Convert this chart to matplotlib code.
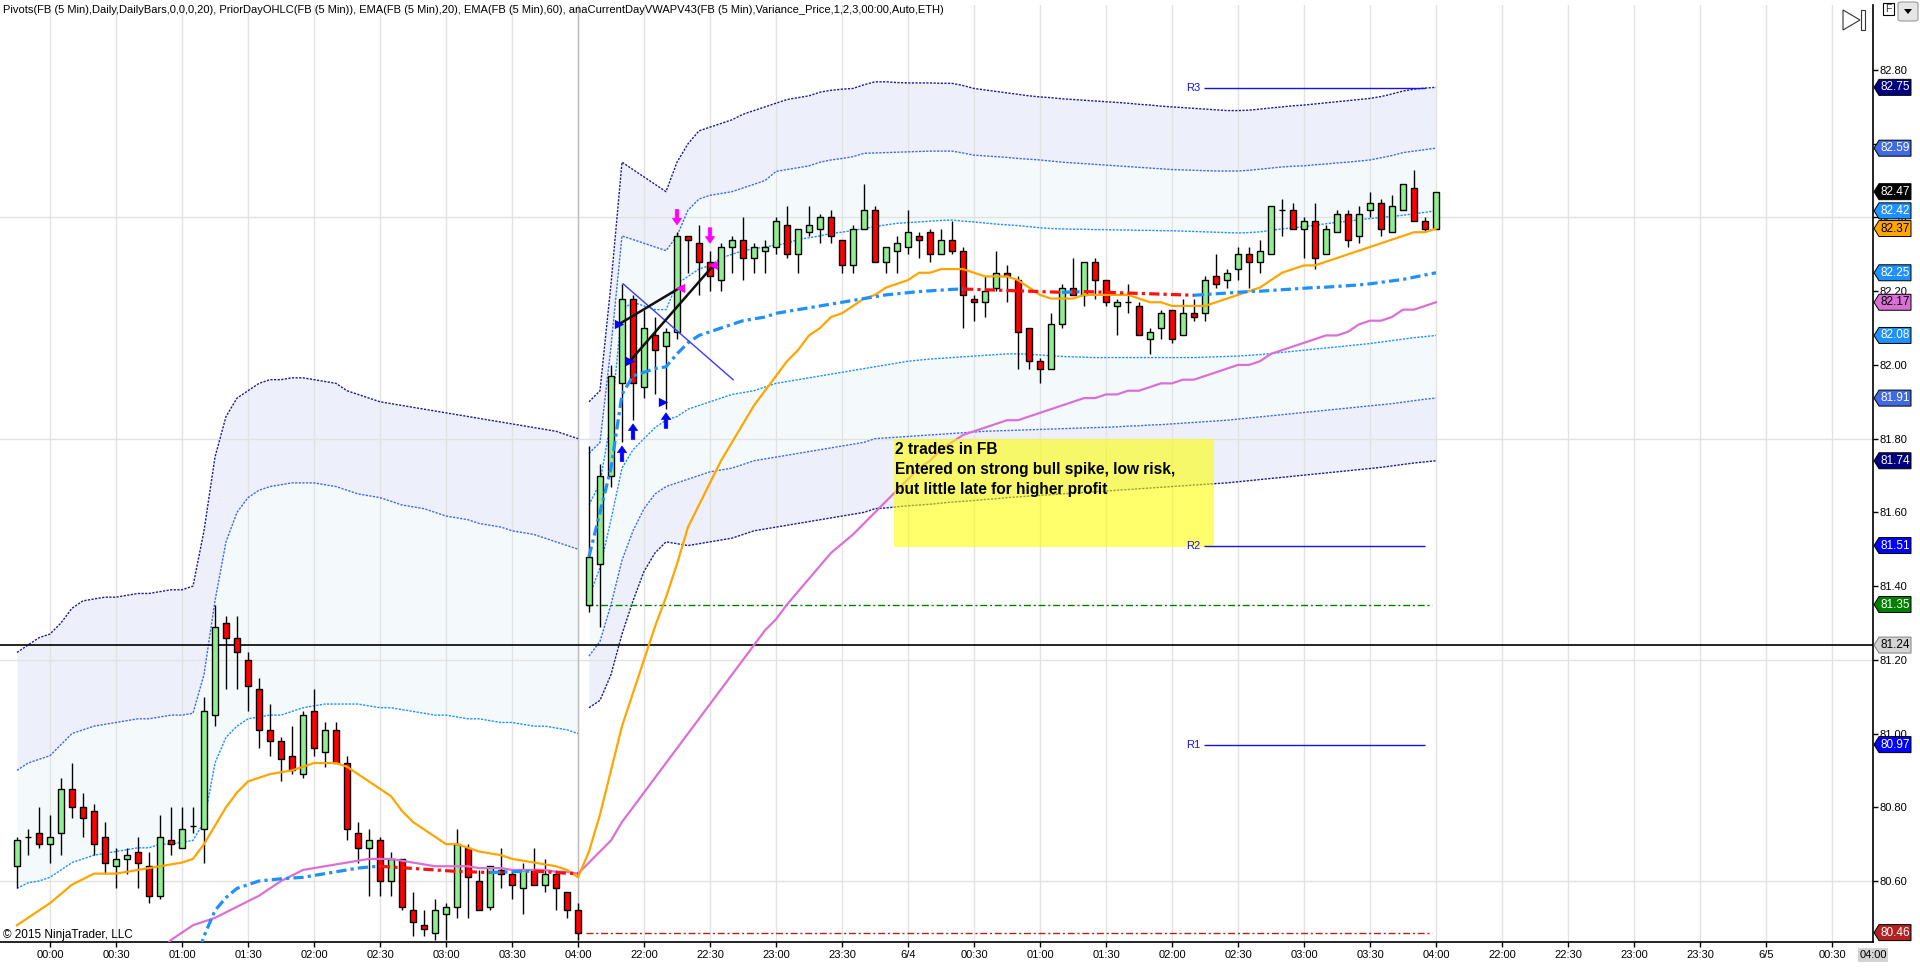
import numpy as np
import matplotlib.pyplot as plt
from matplotlib.patches import Polygon, Rectangle, FancyBboxPatch

plt.rcParams['font.family'] = ['Liberation Sans', 'DejaVu Sans']

# 5 minute bars, FB, 23:45 .. 04:00 then 21:35 .. 04:00
opens = [80.64, 80.72, 80.73, 80.70, 80.73, 80.85, 80.80, 80.79, 80.72, 80.64,
         80.66, 80.68, 80.64, 80.56, 80.71, 80.69, 80.75, 80.74, 81.05, 81.30,
         81.26, 81.20, 81.12, 81.01, 80.98, 80.94, 80.89, 81.06, 80.95, 81.01,
         80.92, 80.73, 80.69, 80.71, 80.60, 80.66, 80.52, 80.48, 80.46, 80.51,
         80.53, 80.69, 80.60, 80.53, 80.63, 80.62, 80.58, 80.63, 80.59, 80.62,
         80.57, 80.52,
         81.35, 81.46, 81.70, 81.95, 82.18, 81.94, 82.08, 82.05, 82.09, 82.35,
         82.33, 82.28, 82.23, 82.32, 82.34, 82.29, 82.31, 82.32, 82.38, 82.30,
         82.36, 82.37, 82.40, 82.34, 82.27, 82.37, 82.42, 82.28, 82.31, 82.32,
         82.35, 82.36, 82.30, 82.34, 82.31, 82.18, 82.17, 82.21, 82.25, 82.23,
         82.10, 82.01, 81.99, 82.11, 82.21, 82.19, 82.28, 82.23, 82.16, 82.17,
         82.16, 82.07, 82.10, 82.15, 82.08, 82.14, 82.14, 82.24, 82.23, 82.26,
         82.30, 82.28, 82.30, 82.42, 82.42, 82.37, 82.39, 82.30, 82.36, 82.41,
         82.35, 82.42, 82.44, 82.36, 82.42, 82.48, 82.39, 82.37]
highs = [80.72, 80.74, 80.80, 80.78, 80.88, 80.92, 80.84, 80.81, 80.76, 80.69,
         80.69, 80.72, 80.68, 80.78, 80.80, 80.80, 80.80, 81.10, 81.35, 81.32,
         81.32, 81.22, 81.15, 81.08, 80.99, 81.02, 81.06, 81.12, 81.03, 81.03,
         80.94, 80.76, 80.74, 80.72, 80.68, 80.66, 80.57, 80.52, 80.55, 80.54,
         80.74, 80.70, 80.63, 80.64, 80.69, 80.63, 80.65, 80.69, 80.66, 80.63,
         80.57, 80.54,
         81.78, 81.73, 82.00, 82.22, 82.19, 82.15, 82.13, 82.10, 82.36, 82.35,
         82.38, 82.31, 82.33, 82.35, 82.40, 82.33, 82.34, 82.40, 82.43, 82.37,
         82.43, 82.41, 82.42, 82.34, 82.38, 82.49, 82.43, 82.32, 82.35, 82.42,
         82.36, 82.37, 82.37, 82.39, 82.32, 82.19, 82.24, 82.31, 82.27, 82.24,
         82.10, 82.02, 82.14, 82.22, 82.29, 82.28, 82.29, 82.23, 82.18, 82.22,
         82.17, 82.10, 82.15, 82.15, 82.18, 82.18, 82.24, 82.30, 82.26, 82.32,
         82.32, 82.34, 82.43, 82.45, 82.44, 82.40, 82.44, 82.38, 82.42, 82.42,
         82.43, 82.47, 82.45, 82.46, 82.49, 82.53, 82.40, 82.47]
lows = [80.58, 80.67, 80.69, 80.65, 80.67, 80.77, 80.72, 80.67, 80.62, 80.58,
        80.62, 80.58, 80.54, 80.55, 80.67, 80.69, 80.73, 80.65, 81.02, 81.12,
        81.12, 81.06, 80.96, 80.94, 80.87, 80.89, 80.88, 80.94, 80.91, 80.92,
        80.71, 80.65, 80.56, 80.56, 80.56, 80.52, 80.45, 80.45, 80.44, 80.44,
        80.50, 80.50, 80.52, 80.52, 80.58, 80.55, 80.51, 80.59, 80.57, 80.52,
        80.50, 80.44,
        81.33, 81.29, 81.67, 81.79, 81.85, 81.91, 81.92, 81.88, 82.07, 82.25,
        82.19, 82.20, 82.20, 82.25, 82.23, 82.25, 82.25, 82.30, 82.29, 82.25,
        82.35, 82.33, 82.33, 82.25, 82.25, 82.37, 82.28, 82.25, 82.25, 82.30,
        82.29, 82.28, 82.30, 82.30, 82.10, 82.12, 82.13, 82.20, 82.17, 81.99,
        81.99, 81.95, 81.99, 82.10, 82.19, 82.16, 82.18, 82.16, 82.08, 82.14,
        82.08, 82.03, 82.07, 82.06, 82.08, 82.12, 82.12, 82.21, 82.21, 82.23,
        82.21, 82.25, 82.30, 82.35, 82.37, 82.29, 82.26, 82.30, 82.36, 82.32,
        82.33, 82.40, 82.35, 82.36, 82.42, 82.39, 82.36, 82.37]
closes = [80.71, 80.72, 80.70, 80.72, 80.85, 80.80, 80.77, 80.70, 80.65, 80.66,
          80.67, 80.65, 80.56, 80.72, 80.70, 80.74, 80.75, 81.06, 81.29, 81.26,
          81.22, 81.13, 81.01, 80.98, 80.93, 80.90, 81.05, 80.96, 81.01, 80.92,
          80.74, 80.69, 80.71, 80.60, 80.66, 80.53, 80.49, 80.47, 80.52, 80.53,
          80.70, 80.61, 80.52, 80.64, 80.62, 80.59, 80.63, 80.59, 80.62, 80.58,
          80.52, 80.46,
          81.48, 81.70, 81.97, 82.18, 81.95, 82.10, 82.04, 82.09, 82.35, 82.34,
          82.28, 82.24, 82.32, 82.34, 82.29, 82.32, 82.32, 82.39, 82.30, 82.37,
          82.38, 82.40, 82.35, 82.27, 82.37, 82.42, 82.28, 82.32, 82.33, 82.36,
          82.34, 82.30, 82.34, 82.31, 82.19, 82.17, 82.20, 82.25, 82.24, 82.09,
          82.01, 81.99, 82.11, 82.21, 82.19, 82.28, 82.23, 82.17, 82.17, 82.17,
          82.08, 82.09, 82.14, 82.07, 82.14, 82.13, 82.23, 82.22, 82.25, 82.30,
          82.28, 82.31, 82.43, 82.42, 82.37, 82.39, 82.29, 82.37, 82.41, 82.34,
          82.41, 82.44, 82.37, 82.43, 82.49, 82.39, 82.37, 82.47]

ema20 = [80.48, 80.50, 80.52, 80.54, 80.565, 80.59, 80.605, 80.62, 80.62, 80.62,
         80.625, 80.63, 80.635, 80.64, 80.645, 80.65, 80.66, 80.70, 80.75, 80.80,
         80.84, 80.87, 80.88, 80.89, 80.895, 80.90, 80.91, 80.92, 80.92, 80.92,
         80.91, 80.89, 80.87, 80.85, 80.83, 80.79, 80.76, 80.74, 80.72, 80.70,
         80.70, 80.69, 80.68, 80.675, 80.67, 80.66, 80.655, 80.65, 80.645, 80.64,
         80.63, 80.61,
         80.68, 80.78, 80.90, 81.02, 81.11, 81.20, 81.29, 81.37, 81.46, 81.56,
         81.62, 81.68, 81.74, 81.79, 81.84, 81.89, 81.93, 81.97, 82.01, 82.04,
         82.08, 82.10, 82.13, 82.14, 82.16, 82.18, 82.19, 82.21, 82.22, 82.23,
         82.25, 82.25, 82.26, 82.26, 82.26, 82.25, 82.24, 82.24, 82.24, 82.23,
         82.21, 82.19, 82.18, 82.18, 82.18, 82.19, 82.19, 82.19, 82.19, 82.19,
         82.18, 82.17, 82.17, 82.16, 82.16, 82.16, 82.16, 82.17, 82.18, 82.19,
         82.20, 82.21, 82.23, 82.25, 82.26, 82.27, 82.27, 82.28, 82.29, 82.30,
         82.31, 82.32, 82.33, 82.34, 82.35, 82.36, 82.36, 82.37]
ema60 = [None] * 13 + [
         80.41, 80.44, 80.46, 80.48, 80.49, 80.50, 80.515,
         80.53, 80.545, 80.56, 80.58, 80.60, 80.615, 80.63, 80.635, 80.64, 80.645,
         80.65, 80.655, 80.66, 80.66, 80.66, 80.655, 80.65, 80.645, 80.64, 80.64,
         80.64, 80.64, 80.635, 80.635, 80.635, 80.63, 80.63, 80.63, 80.63, 80.625,
         80.625, 80.62,
         80.65, 80.68, 80.71, 80.76, 80.80, 80.84, 80.88, 80.92, 80.96, 81.00,
         81.04, 81.08, 81.12, 81.16, 81.20, 81.24, 81.28, 81.31, 81.35, 81.385,
         81.42, 81.455, 81.49, 81.515, 81.54, 81.57, 81.60, 81.63, 81.66, 81.69,
         81.72, 81.74, 81.77, 81.79, 81.81, 81.82, 81.83, 81.84, 81.85, 81.85,
         81.86, 81.87, 81.88, 81.89, 81.90, 81.91, 81.91, 81.92, 81.92, 81.93,
         81.93, 81.94, 81.95, 81.95, 81.96, 81.96, 81.97, 81.98, 81.99, 82.00,
         82.00, 82.01, 82.03, 82.04, 82.05, 82.06, 82.07, 82.08, 82.08, 82.09,
         82.11, 82.12, 82.12, 82.13, 82.15, 82.15, 82.16, 82.17]

# VWAP and deviation bands, one set per session
vwap_1 = [None] * 16 + [
          80.36, 80.45, 80.52, 80.555, 80.58, 80.59, 80.60, 80.603, 80.606, 80.608,
          80.61, 80.615, 80.62, 80.625, 80.63, 80.635, 80.638, 80.64, 80.638, 80.636,
          80.634, 80.632, 80.630, 80.628, 80.626, 80.625, 80.624, 80.623, 80.624, 80.625,
          80.626, 80.627, 80.625, 80.623, 80.621, 80.62]
sd3u_1 = [81.22, 81.24, 81.26, 81.27, 81.30, 81.34, 81.36, 81.365, 81.37, 81.37,
          81.375, 81.38, 81.38, 81.385, 81.39, 81.39, 81.40, 81.55, 81.75, 81.86,
          81.91, 81.93, 81.95, 81.96, 81.96, 81.965, 81.965, 81.96, 81.955, 81.95,
          81.93, 81.92, 81.91, 81.90, 81.895, 81.89, 81.885, 81.88, 81.875, 81.87,
          81.865, 81.86, 81.855, 81.85, 81.845, 81.84, 81.835, 81.83, 81.825, 81.82,
          81.81, 81.80]
sd2u_1 = [80.90, 80.92, 80.93, 80.94, 80.97, 81.00, 81.01, 81.02, 81.025, 81.03,
          81.035, 81.04, 81.04, 81.045, 81.05, 81.05, 81.055, 81.16, 81.36, 81.52,
          81.60, 81.64, 81.66, 81.67, 81.675, 81.68, 81.68, 81.68, 81.675, 81.67,
          81.66, 81.65, 81.645, 81.64, 81.63, 81.62, 81.615, 81.61, 81.60, 81.59,
          81.585, 81.58, 81.57, 81.565, 81.56, 81.55, 81.545, 81.54, 81.53, 81.52,
          81.51, 81.50]
sd1u_1 = [80.58, 80.595, 80.60, 80.61, 80.63, 80.65, 80.66, 80.67, 80.675, 80.68,
          80.685, 80.69, 80.69, 80.70, 80.70, 80.705, 80.71, 80.76, 80.92, 80.99,
          81.02, 81.04, 81.045, 81.05, 81.05, 81.06, 81.07, 81.075, 81.08, 81.08,
          81.08, 81.08, 81.075, 81.07, 81.07, 81.065, 81.06, 81.055, 81.05, 81.05,
          81.045, 81.04, 81.04, 81.035, 81.03, 81.03, 81.025, 81.02, 81.02, 81.015,
          81.01, 81.00]

vwap_2 = [81.48, 81.60, 81.72, 81.92, 81.97, 81.98, 81.99, 81.995, 82.03, 82.06,
          82.08, 82.09, 82.10, 82.11, 82.12, 82.125, 82.13, 82.14, 82.145, 82.15,
          82.155, 82.16, 82.165, 82.17, 82.175, 82.18, 82.185, 82.19, 82.193, 82.196,
          82.199, 82.201, 82.203, 82.205, 82.206, 82.205, 82.204, 82.203, 82.202, 82.201,
          82.200, 82.199, 82.198, 82.197, 82.198, 82.199, 82.198, 82.197, 82.196, 82.195,
          82.194, 82.193, 82.192, 82.191, 82.190, 82.189, 82.191, 82.193, 82.195, 82.197,
          82.199, 82.200, 82.202, 82.204, 82.206, 82.208, 82.210, 82.211, 82.213, 82.215,
          82.217, 82.220, 82.224, 82.228, 82.232, 82.238, 82.244, 82.250]
sd3u_2 = [81.90, 81.93, 82.22, 82.55, 82.53, 82.51, 82.49, 82.47, 82.55, 82.60,
          82.635, 82.645, 82.655, 82.665, 82.68, 82.69, 82.70, 82.71, 82.72, 82.725,
          82.73, 82.74, 82.745, 82.748, 82.75, 82.76, 82.768, 82.768, 82.766, 82.765,
          82.765, 82.765, 82.764, 82.764, 82.758, 82.75, 82.746, 82.742, 82.738, 82.734,
          82.73, 82.727, 82.725, 82.722, 82.72, 82.718, 82.716, 82.714, 82.712, 82.71,
          82.707, 82.705, 82.702, 82.70, 82.698, 82.696, 82.694, 82.692, 82.69, 82.69,
          82.691, 82.694, 82.697, 82.70, 82.703, 82.705, 82.708, 82.711, 82.714, 82.717,
          82.72, 82.723, 82.728, 82.735, 82.743, 82.748, 82.751, 82.753]
sd2u_2 = [81.76, 81.79, 82.05, 82.35, 82.34, 82.33, 82.32, 82.31, 82.35, 82.42,
          82.45, 82.46, 82.465, 82.47, 82.48, 82.49, 82.50, 82.525, 82.53, 82.535,
          82.54, 82.55, 82.556, 82.56, 82.565, 82.574, 82.575, 82.576, 82.577, 82.578,
          82.579, 82.58, 82.58, 82.58, 82.575, 82.569, 82.567, 82.565, 82.563, 82.56,
          82.558, 82.556, 82.553, 82.55, 82.548, 82.546, 82.544, 82.542, 82.54, 82.538,
          82.536, 82.534, 82.532, 82.53, 82.529, 82.528, 82.527, 82.526, 82.526, 82.526,
          82.528, 82.531, 82.534, 82.537, 82.539, 82.54, 82.543, 82.545, 82.548, 82.55,
          82.553, 82.556, 82.562, 82.568, 82.576, 82.58, 82.584, 82.588]
sd1u_2 = [81.62, 81.68, 81.85, 82.15, 82.17, 82.16, 82.15, 82.15, 82.22, 82.24,
          82.26, 82.27, 82.29, 82.30, 82.31, 82.315, 82.32, 82.325, 82.33, 82.34,
          82.345, 82.35, 82.357, 82.36, 82.365, 82.37, 82.375, 82.38, 82.384, 82.386,
          82.388, 82.39, 82.392, 82.393, 82.39, 82.388, 82.385, 82.382, 82.38, 82.378,
          82.375, 82.372, 82.37, 82.369, 82.368, 82.368, 82.367, 82.367, 82.366, 82.366,
          82.365, 82.365, 82.364, 82.364, 82.363, 82.362, 82.361, 82.36, 82.359, 82.358,
          82.359, 82.361, 82.365, 82.369, 82.372, 82.375, 82.379, 82.383, 82.387, 82.39,
          82.394, 82.397, 82.40, 82.403, 82.406, 82.41, 82.414, 82.418]
sd1l_2 = [81.37, 81.45, 81.58, 81.72, 81.77, 81.80, 81.83, 81.85, 81.86, 81.88,
          81.89, 81.90, 81.91, 81.92, 81.925, 81.93, 81.94, 81.95, 81.955, 81.96,
          81.965, 81.97, 81.975, 81.98, 81.985, 81.99, 81.995, 82.00, 82.005, 82.01,
          82.013, 82.016, 82.018, 82.02, 82.022, 82.024, 82.026, 82.028, 82.03, 82.03,
          82.029, 82.027, 82.025, 82.023, 82.022, 82.021, 82.02, 82.02, 82.02, 82.02,
          82.02, 82.02, 82.02, 82.02, 82.02, 82.02, 82.021, 82.022, 82.023, 82.024,
          82.026, 82.028, 82.031, 82.034, 82.037, 82.04, 82.043, 82.046, 82.049, 82.052,
          82.055, 82.058, 82.062, 82.066, 82.07, 82.074, 82.077, 82.08]
sd2l_2 = [81.21, 81.25, 81.35, 81.47, 81.55, 81.61, 81.65, 81.67, 81.68, 81.69,
          81.70, 81.71, 81.715, 81.72, 81.73, 81.74, 81.745, 81.75, 81.755, 81.76,
          81.765, 81.77, 81.775, 81.78, 81.785, 81.79, 81.80, 81.802, 81.804, 81.806,
          81.808, 81.81, 81.812, 81.814, 81.816, 81.818, 81.82, 81.821, 81.822, 81.823,
          81.824, 81.825, 81.826, 81.827, 81.828, 81.829, 81.83, 81.831, 81.832, 81.834,
          81.835, 81.837, 81.838, 81.84, 81.842, 81.844, 81.846, 81.848, 81.85, 81.853,
          81.856, 81.859, 81.862, 81.865, 81.868, 81.871, 81.874, 81.877, 81.88, 81.883,
          81.886, 81.889, 81.892, 81.895, 81.899, 81.903, 81.907, 81.91]
sd3l_2 = [81.07, 81.09, 81.16, 81.27, 81.36, 81.44, 81.49, 81.52, 81.515, 81.51,
          81.515, 81.52, 81.525, 81.53, 81.54, 81.55, 81.555, 81.56, 81.565, 81.57,
          81.575, 81.58, 81.585, 81.59, 81.595, 81.60, 81.61, 81.612, 81.615, 81.618,
          81.62, 81.622, 81.625, 81.628, 81.63, 81.632, 81.635, 81.637, 81.64, 81.642,
          81.644, 81.646, 81.648, 81.65, 81.652, 81.654, 81.656, 81.658, 81.66, 81.662,
          81.664, 81.666, 81.668, 81.67, 81.672, 81.674, 81.676, 81.678, 81.68, 81.683,
          81.686, 81.689, 81.692, 81.695, 81.698, 81.701, 81.704, 81.707, 81.71, 81.713,
          81.716, 81.719, 81.722, 81.726, 81.73, 81.734, 81.737, 81.74]

prior_high = 81.35
prior_low = 80.46
ref_line = 81.24
pivot_names = ['R3', 'R2', 'R1']
pivot_values = [82.75, 81.51, 80.97]

# trades
entry_bars = [55, 56, 59]
entry_prices = [82.11, 82.01, 81.90]
exit_bars = [60, 63]
exit_prices = [82.21, 82.27]
buy_arrow_bars = [55, 56, 59]
buy_arrow_tips = [81.78, 81.84, 81.87]
sell_arrow_bars = [60, 63]
sell_arrow_tips = [82.38, 82.33]
trend_x = [55.1, 65.1]
trend_y = [82.22, 81.96]

tick_labels = ['00:00', '00:30', '01:00', '01:30', '02:00', '02:30', '03:00', '03:30', '04:00',
               '22:00', '22:30', '23:00', '23:30', '6/4', '00:30', '01:00', '01:30', '02:00',
               '02:30', '03:00', '03:30', '04:00', '22:00', '22:30', '23:00', '23:30', '6/5', '00:30']
tick_first_bar = 3
bars_per_tick = 6
price_ticks = [80.60, 80.80, 81.00, 81.20, 81.40, 81.60, 81.80, 82.00, 82.20, 82.40, 82.60, 82.80]

note_lines = ['2 trades in FB', 'Entered on strong bull spike, low risk,', 'but little late for higher profit']
header = ('Pivots(FB (5 Min),Daily,DailyBars,0,0,0,20), PriorDayOHLC(FB (5 Min)), EMA(FB (5 Min),20), '
          'EMA(FB (5 Min),60), anaCurrentDayVWAPV43(FB (5 Min),Variance_Price,1,2,3,00:00,Auto,ETH)')

W, H = 1920, 969
LAV = '#EDF0FA'
PALE = '#F4FAFC'
NAVY = '#1C1C8C'
ROYAL = '#4169E1'
DODGER = '#1E90FF'

fig = plt.figure(figsize=(W / 100, H / 100), dpi=100)
ax = fig.add_axes([0, 27 / H, 1873 / W, 937 / H])
ax.set_xlim(-17 / 11, (1873 - 17) / 11)
ax.set_ylim(80.4345, 82.9764)

x = np.arange(len(closes))
x1 = x[:len(sd3u_1)]
x2 = x[len(sd3u_1):]

# bands
ax.fill_between(x1, sd2u_1, sd3u_1, color=LAV, lw=0, zorder=0.2)
ax.fill_between(x1, sd1u_1, sd2u_1, color=PALE, lw=0, zorder=0.2)
ax.fill_between(x2, sd2u_2, sd3u_2, color=LAV, lw=0, zorder=0.2)
ax.fill_between(x2, sd1u_2, sd2u_2, color=PALE, lw=0, zorder=0.2)
ax.fill_between(x2, sd2l_2, sd1l_2, color=PALE, lw=0, zorder=0.2)
ax.fill_between(x2, sd3l_2, sd2l_2, color=LAV, lw=0, zorder=0.2)
dots = (0, (1.6, 1.0))
for xs, ys, col in [(x1, sd3u_1, NAVY), (x1, sd2u_1, ROYAL), (x1, sd1u_1, DODGER),
                    (x2, sd3u_2, NAVY), (x2, sd2u_2, ROYAL), (x2, sd1u_2, DODGER),
                    (x2, sd1l_2, DODGER), (x2, sd2l_2, ROYAL), (x2, sd3l_2, NAVY)]:
    ax.plot(xs, ys, color=col, lw=1, ls=dots, zorder=2)

# grid
ax.set_xticks(tick_first_bar + bars_per_tick * np.arange(len(tick_labels)))
ax.set_xticklabels(tick_labels)
ax.grid(axis='x', color='#E2E2E2', lw=1)
ax.set_axisbelow(True)
for g in [80.6, 81.2, 81.8, 82.4]:
    ax.axhline(g, color='#E2E2E2', lw=1, zorder=0.5)
ax.axvline(len(sd3u_1) - 1, color='#BDBDBD', lw=1, zorder=0.6)

ax.axhline(ref_line, color='black', lw=1.2, zorder=2.5)
ax.plot([x2[0] - 0.3, x2[-1] - 0.4], [prior_high] * 2, color='#008000', lw=1, ls=(0, (5, 2, 1.5, 2)), zorder=2)
ax.plot([x2[0] - 0.3, x2[-1] - 0.4], [prior_low] * 2, color='#B22222', lw=1, ls=(0, (5, 2, 1.5, 2)), zorder=2)

# candles
o = np.array(opens)
c = np.array(closes)
ax.vlines(x, lows, highs, color='black', lw=1, zorder=3)
ax.bar(x, np.abs(c - o), bottom=np.minimum(o, c), width=0.55,
       color=np.where(c >= o, '#90EE90', '#FF0000'), edgecolor='black', linewidth=1, zorder=4)

# moving averages
ax.plot(x, np.array(ema60, dtype=float), color='#DA70D6', lw=1.6, zorder=5)
ax.plot(x, np.array(ema20, dtype=float), color='#FFA500', lw=1.6, zorder=5)


def draw_vwap(xs, vals):
    v = np.array(vals, dtype=float)
    runs = []
    for k in range(1, len(v)):
        if np.isnan(v[k]) or np.isnan(v[k - 1]):
            continue
        col = DODGER if v[k] > v[k - 1] else '#FF1010'
        if runs and runs[-1][0] == col and runs[-1][1][-1] == xs[k - 1]:
            runs[-1][1].append(xs[k])
            runs[-1][2].append(v[k])
        else:
            runs.append([col, [xs[k - 1], xs[k]], [v[k - 1], v[k]]])
    for col, rx, ry in runs:
        ax.plot(rx, ry, color=col, lw=2.3, ls=(0, (3.2, 1.3, 1, 1.3)), zorder=5)


draw_vwap(x1, vwap_1)
draw_vwap(x2, vwap_2)

# trade markers
ax.plot(trend_x, trend_y, color='#3A3AFF', lw=1, zorder=6)
for k in range(len(exit_bars)):
    ax.plot([entry_bars[k] - 0.3, exit_bars[k] + 0.3], [entry_prices[k], exit_prices[k]],
            color='#111111', lw=1.8, zorder=6)
ax.scatter(np.array(entry_bars) - 0.3, entry_prices, marker='>', s=45, color='#0000FF', zorder=7, lw=0)
ax.scatter(np.array(exit_bars) + 0.3, exit_prices, marker='<', s=45, color='#FF00FF', zorder=7, lw=0)


def arrow(bx, tip, up, col):
    s = 1 if up else -1
    hw, sw, hh, ln = 0.42, 0.16, 0.018, 0.042
    pts = [(bx, tip), (bx + hw, tip - s * hh), (bx + sw, tip - s * hh), (bx + sw, tip - s * ln),
           (bx - sw, tip - s * ln), (bx - sw, tip - s * hh), (bx - hw, tip - s * hh)]
    ax.add_patch(Polygon(pts, closed=True, facecolor=col, edgecolor=col, lw=0.5, zorder=7))


for b, t in zip(buy_arrow_bars, buy_arrow_tips):
    arrow(b, t, True, '#0000FF')
for b, t in zip(sell_arrow_bars, sell_arrow_tips):
    arrow(b, t, False, '#FF00FF')

# note
ax.add_patch(Rectangle((79.7, 81.506), 29.1, 0.294, facecolor='#FFFF00', alpha=0.58, lw=0, zorder=6))
for k, line in enumerate(note_lines):
    ax.text(79.85, 81.771 - k * 0.054, line, fontsize=11.2, fontweight='bold', va='center', ha='left',
            color='black', zorder=7)

# pivots
ax.hlines(pivot_values, 107.9, 128.0, color='#1414E6', lw=1, zorder=6.5)
for name, v in zip(pivot_names, pivot_values):
    ax.text(107.6, v, name, ha='right', va='center', fontsize=8, color='#1414E6', zorder=8)

# axes look
for s in ['left', 'top']:
    ax.spines[s].set_visible(False)
ax.spines['right'].set_linewidth(1.2)
ax.spines['bottom'].set_linewidth(1.2)
ax.yaxis.tick_right()
ax.set_yticks(price_ticks)
# the 82.60 label sits fully under the 82.59 price marker
ax.set_yticklabels(['' if abs(v - 82.60) < 1e-6 else f'{v:.2f}' for v in price_ticks])
ax.tick_params(axis='y', direction='out', length=3.5, width=1, pad=1.5, labelsize=8)
ax.tick_params(axis='x', direction='out', length=3.5, width=1, pad=2, labelsize=8)
ax.set_facecolor('white')


def tag(value, face, txt='white', edge='black'):
    tr = ax.get_yaxis_transform()
    px = 1 / 1873
    h = 8 / 368.6
    pts = [(1 + 1 * px, value), (1 + 6 * px, value + h), (1 + 38 * px, value + h),
           (1 + 38 * px, value - h), (1 + 6 * px, value - h)]
    ax.add_patch(Polygon(pts, closed=True, transform=tr, facecolor=face, edgecolor=edge,
                         lw=0.7, clip_on=False, zorder=10))
    ax.text(1 + 22 * px, value, f'{value:.2f}', transform=tr, ha='center', va='center',
            fontsize=8.5, color=txt, clip_on=False, zorder=11)


tag(sd3u_2[-1], '#000080')
tag(sd2u_2[-1], ROYAL)
tag(closes[-1], 'black')
tag(sd1u_2[-1], DODGER)
tag(ema20[-1], '#FFA500', 'black')
tag(vwap_2[-1], DODGER)
tag(ema60[-1], '#DA70D6', 'black')
tag(sd1l_2[-1], DODGER)
tag(sd2l_2[-1], ROYAL)
tag(sd3l_2[-1], '#000080')
tag(pivot_values[1], '#0000FF')
tag(prior_high, '#008000')
tag(ref_line, '#D3D3D3', 'black', '#808080')
tag(pivot_values[2], '#0000FF')
tag(prior_low, '#B22222')

ax.text(1.0, -13 / 937, '04:00', transform=ax.transAxes, ha='center', va='center', fontsize=8,
        bbox=dict(boxstyle='square,pad=0.15', fc='#D3D3D3', ec='none'))

fig.text(3 / W, 1 - 10 / H, header, fontsize=8, va='center', ha='left')
fig.text(3 / W, 1 - 935 / H, '\u00a9 2015 NinjaTrader, LLC', fontsize=8.5, va='center', ha='left')


def fxy(px, py):
    return (px / W, 1 - py / H)


fig.patches.append(Polygon([fxy(1843, 10), fxy(1843, 30), fxy(1860, 20)], closed=True, fill=False,
                           edgecolor='#333333', lw=0.8, transform=fig.transFigure))
fig.patches.append(Rectangle(fxy(1861, 30), 4 / W, 20 / H, fill=False, edgecolor='#333333', lw=0.8,
                             transform=fig.transFigure))
fig.patches.append(Rectangle(fxy(1883, 15), 11 / W, 12 / H, fill=False, edgecolor='black', lw=0.8,
                             transform=fig.transFigure))
fig.text(1888.5 / W, 1 - 9 / H, 'F', fontsize=7.5, ha='center', va='center', color='#333333')
fig.patches.append(FancyBboxPatch(fxy(1898, 21), 20 / W, 19 / H, boxstyle='round,pad=0,rounding_size=0.002',
                                  facecolor='#E6E6E6', edgecolor='#999999', lw=0.8, transform=fig.transFigure))
fig.patches.append(Polygon([fxy(1904, 9), fxy(1912, 9), fxy(1908, 14)], closed=True, facecolor='black',
                           transform=fig.transFigure))

fig.savefig('out.png', dpi=100)
